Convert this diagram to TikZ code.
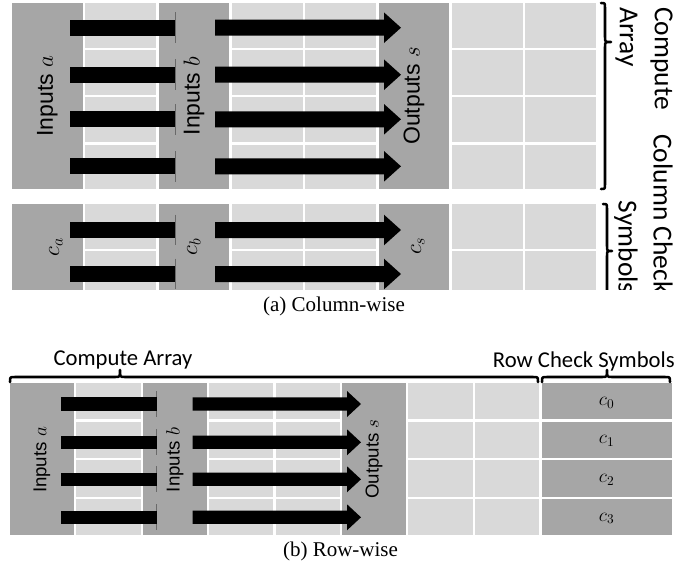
\documentclass[tikz,border=0pt]{standalone}
\usepackage{fontspec}
\setmainfont{Liberation Serif}
\setsansfont{Liberation Sans}
\newfontfamily\calibri{Carlito}
\definecolor{darkc}{RGB}{166,166,166}
\definecolor{lightc}{RGB}{217,217,217}
\definecolor{seamc}{RGB}{105,105,105}
\tikzset{
  darkcell/.style={fill=darkc},
  lightcell/.style={fill=lightc},
  arrowfill/.style={fill=black},
  seam/.style={draw=seamc, line width=0.6pt},
  brace/.style={draw=black, line width=1.9pt, line cap=round, line join=round},
  biglab/.style={font=\sffamily\fontsize{17.25}{20}\selectfont, inner sep=0pt, rotate=90},
  smalllab/.style={font=\sffamily\fontsize{14}{17}\selectfont, inner sep=0pt, rotate=90},
  sidelab/.style={font=\calibri\fontsize{20.6}{26.25}\selectfont, inner sep=0pt, rotate=-90},
  toplab/.style={font=\calibri\fontsize{17}{20}\selectfont, inner sep=0pt},
  caption/.style={font=\fontsize{15.75}{18}\selectfont, inner sep=0pt},
}
\begin{document}
\begin{tikzpicture}[x=0.75pt, y=-0.75pt]
\useasboundingbox (0,0) rectangle (697,569);
\fill[white] (0,0) rectangle (697,569);

% ---------------- (a) Column-wise ----------------
\begin{scope}
\clip (0,0) rectangle (697,289);
% compute array
\foreach \x in {12,158.6,378.5} \fill[darkcell] (\x,3) rectangle ++(70.8,186.3);
\foreach \x in {85.3,231.9,305.2,451.8,525.1}
  \foreach \y in {3,50.2,97.4,144.6}
    \fill[lightcell] (\x,\y) rectangle ++(70.8,44.7);
% check symbols
\foreach \x in {12,158.6,378.5} \fill[darkcell] (\x,204) rectangle ++(70.8,91.9);
\foreach \x in {85.3,231.9,305.2,451.8,525.1}
  \foreach \y in {204,251.2}
    \fill[lightcell] (\x,\y) rectangle ++(70.8,44.7);
% arrows
\foreach \c in {27.7,74.7,119.3,166.3,230,274} {
  \draw[seam] (175,\c-15.3) -- (175,\c+15.3);
  \fill[arrowfill] (70,\c-8) rectangle (175,\c+8);
  \fill[arrowfill] (215,\c-8) -- (384,\c-8) -- (384,\c-15.3) -- (401,\c)
     -- (384,\c+15.3) -- (384,\c+8) -- (215,\c+8) -- cycle;
}
% labels
\node[biglab] (ia) at (47.4,96) {Inputs $a$};
\node[biglab] (ib) at (194,96) {Inputs $b$};
\node[biglab] (os) at (414,96) {Outputs $s$};
\node[biglab] (ca) at (56,247) {$c_a$};
\node[biglab] (cb) at (194,246.5) {$c_b$};
\node[biglab] (cs) at (418,246) {$c_s$};
% braces
\draw[brace] (601,3) .. controls (605,3) .. (605,8) -- (605,37)
  .. controls (605,42) .. (611,42) .. controls (605,42) .. (605,47)
  -- (605,184) .. controls (605,189) .. (601,189);
\draw[brace] (603,204) .. controls (607,204) .. (607,209) -- (607,246)
  .. controls (607,251) .. (612,251) .. controls (607,251) .. (607,256)
  -- (607,292) .. controls (607,297) .. (603,297);
\node[sidelab, anchor=north west, align=left] (cal) at (673,7) {Compute\\Array};
\node[sidelab, anchor=north west, align=right] (ccl) at (673,134) {Column Check\\Symbols};
\end{scope}
\node[caption, anchor=base] (capa) at (334,311) {(a) Column-wise};

% ---------------- (b) Row-wise ----------------
\foreach \x in {10,142.8,342} \fill[darkcell] (\x,383) rectangle ++(64.1,152.2);
\foreach \x in {76.4,209.2,275.6,408.4,474.8}
  \foreach \y in {383,421.6,460.2,498.8}
    \fill[lightcell] (\x,\y) rectangle ++(64.1,36.4);
\foreach \y/\k in {383/0,421.6/1,460.2/2,498.8/3} {
  \fill[darkcell] (541.6,\y) rectangle ++(130.1,36.4);
  \node[font=\fontsize{14}{17}\selectfont, inner sep=0pt] (c\k) at (606.7,\y+19.5) {$c_{\k}$};
}
\foreach \c in {404,442.3,479.3,517.3} {
  \draw[seam] (156.7,\c-13) -- (156.7,\c+13);
  \fill[arrowfill] (60.7,\c-6.65) rectangle (156.7,\c+6.65);
  \fill[arrowfill] (192.7,\c-6.65) -- (347,\c-6.65) -- (347,\c-13) -- (361,\c)
     -- (347,\c+13) -- (347,\c+6.65) -- (192.7,\c+6.65) -- cycle;
}
\node[smalllab] (ia2) at (42,460) {Inputs $a$};
\node[smalllab] (ib2) at (175,460) {Inputs $b$};
\node[smalllab] (os2) at (374,459) {Outputs $s$};
\draw[brace] (10,382) .. controls (10,377) .. (15,377) -- (115,377)
  .. controls (120,377) .. (120,370) .. controls (120,377) .. (125,377)
  -- (533,377) .. controls (538,377) .. (538,382);
\draw[brace] (542,382) .. controls (542,377) .. (547,377) -- (602,377)
  .. controls (607,377) .. (607,370) .. controls (607,377) .. (612,377)
  -- (665,377) .. controls (670,377) .. (670,382);
\node[toplab, anchor=base] (cab) at (123,365) {Compute Array};
\node[toplab, anchor=base east] (rcs) at (675,367) {Row Check Symbols};
\node[caption, anchor=base] (capb) at (340.5,556) {(b) Row-wise};
\end{tikzpicture}
\end{document}
